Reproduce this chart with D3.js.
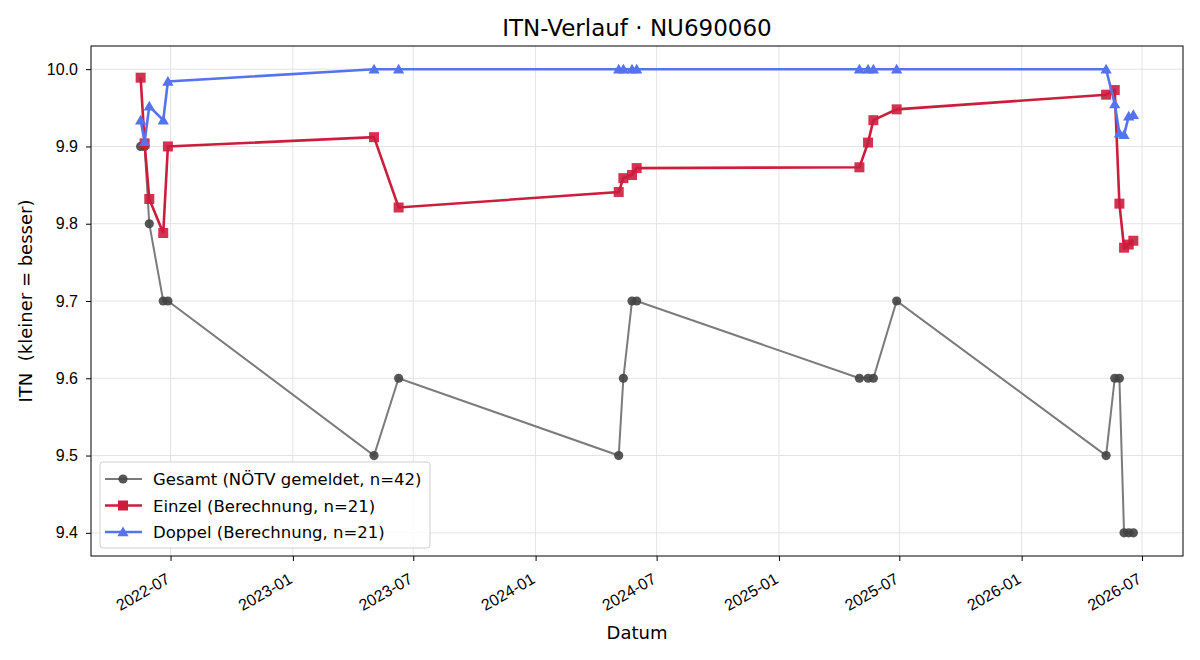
<!DOCTYPE html>
<html>
<head>
<meta charset="utf-8">
<script src="https://cdn.jsdelivr.net/npm/d3@7"></script>
<style>
  body { margin: 0; background: #fff; }
  svg { font-family: "DejaVu Sans", sans-serif; }
</style>
</head>
<body>
<svg id="chart" width="1200" height="660"></svg>
<script>
// dates of the 21 tournaments (same for all three series)
var dates = ["2022-05-17","2022-05-23","2022-05-30","2022-06-20","2022-06-27",
  "2023-05-03","2023-06-09",
  "2024-05-05","2024-05-12","2024-05-25","2024-06-01",
  "2025-05-02","2025-05-15","2025-05-23","2025-06-27",
  "2026-05-08","2026-05-21","2026-05-28","2026-06-04","2026-06-11","2026-06-18"];

var gesamt = [9.9, 9.9, 9.8, 9.7, 9.7,
  9.5, 9.6,
  9.5, 9.6, 9.7, 9.7,
  9.6, 9.6, 9.6, 9.7,
  9.5, 9.6, 9.6, 9.4, 9.4, 9.4];

var einzel = [9.989, 9.904, 9.832, 9.788, 9.900,
  9.912, 9.821,
  9.841, 9.859, 9.863, 9.872,
  9.873, 9.905, 9.934, 9.948,
  9.967, 9.973, 9.826, 9.769, 9.773, 9.778];

var doppel = [9.934, 9.906, 9.952, 9.934, 9.984,
  10.0, 10.0,
  10.0, 10.0, 10.0, 10.0,
  10.0, 10.0, 10.0, 10.0,
  10.0, 9.955, 9.917, 9.915, 9.939, 9.941];

var yTicks = [9.4, 9.5, 9.6, 9.7, 9.8, 9.9, 10.0];
var xTicks = ["2022-07-01","2023-01-01","2023-07-01","2024-01-01","2024-07-01",
  "2025-01-01","2025-07-01","2026-01-01","2026-07-01"];

var parse = d3.timeParse("%Y-%m-%d");
var t = dates.map(parse);

var svg = d3.select("#chart");
var pLeft = 91, pRight = 1183, pTop = 46, pBottom = 556;

// 5% padding like matplotlib
var tMin = d3.min(t), tMax = d3.max(t);
var pad = (tMax - tMin) * 0.05;
var x = d3.scaleTime()
  .domain([new Date(+tMin - pad), new Date(+tMax + pad)])
  .range([pLeft, pRight]);

var y = d3.scaleLinear()
  .domain([9.37, 10.03])
  .range([pBottom, pTop]);

// grid
var grid = svg.append("g");
grid.selectAll("line.gx").data(xTicks.map(parse)).enter().append("line")
  .attr("x1", function(d){ return x(d); }).attr("x2", function(d){ return x(d); })
  .attr("y1", pTop).attr("y2", pBottom)
  .attr("stroke", "#e3e3e3").attr("stroke-width", 1);
grid.selectAll("line.gy").data(yTicks).enter().append("line")
  .attr("x1", pLeft).attr("x2", pRight)
  .attr("y1", function(d){ return y(d); }).attr("y2", function(d){ return y(d); })
  .attr("stroke", "#e3e3e3").attr("stroke-width", 1);

// axes
var xAxis = svg.append("g")
  .attr("transform", "translate(0," + pBottom + ")")
  .call(d3.axisBottom(x).tickValues(xTicks.map(parse)).tickFormat(d3.timeFormat("%Y-%m")).tickSizeOuter(0).tickSize(5));
xAxis.selectAll("text")
  .attr("font-size", 16).attr("fill", "#000")
  .attr("text-anchor", "end")
  .attr("x", 0).attr("y", 0).attr("dy", 0)
  .attr("transform", "translate(0,26) rotate(-30)");
xAxis.select(".domain").remove();

var yAxis = svg.append("g")
  .attr("transform", "translate(" + pLeft + ",0)")
  .call(d3.axisLeft(y).tickValues(yTicks).tickFormat(d3.format(".1f")).tickSizeOuter(0).tickSize(5).tickPadding(8));
yAxis.selectAll("text").attr("font-size", 16).attr("fill", "#000");
yAxis.select(".domain").remove();
svg.selectAll(".tick line").attr("stroke", "#000");

// frame
svg.append("rect")
  .attr("x", pLeft).attr("y", pTop)
  .attr("width", pRight - pLeft).attr("height", pBottom - pTop)
  .attr("fill", "none").attr("stroke", "#000").attr("stroke-width", 1);

var line = function(vals) {
  return d3.line()
    .x(function(d, i){ return x(t[i]); })
    .y(function(d){ return y(d); })(vals);
};

// Gesamt
svg.append("path").attr("d", line(gesamt))
  .attr("fill", "none").attr("stroke", "#7b7b7b").attr("stroke-width", 2);
svg.selectAll("circle.ges").data(gesamt).enter().append("circle")
  .attr("cx", function(d, i){ return x(t[i]); })
  .attr("cy", function(d){ return y(d); })
  .attr("r", 4.6).attr("fill", "#444").attr("fill-opacity", 0.9);

// Einzel
var red = "#cc1d3d";
svg.append("path").attr("d", line(einzel))
  .attr("fill", "none").attr("stroke", red).attr("stroke-width", 2.6);
svg.selectAll("rect.ein").data(einzel).enter().append("rect")
  .attr("x", function(d, i){ return x(t[i]) - 5; })
  .attr("y", function(d){ return y(d) - 5; })
  .attr("width", 10).attr("height", 10)
  .attr("fill", red).attr("fill-opacity", 0.9);

// Doppel
var blue = "#5673ee";
var tri = d3.symbol().type(d3.symbolTriangle).size(55);
svg.append("path").attr("d", line(doppel))
  .attr("fill", "none").attr("stroke", blue).attr("stroke-width", 2.6);
svg.selectAll("path.dop").data(doppel).enter().append("path")
  .attr("d", tri)
  .attr("transform", function(d, i){ return "translate(" + x(t[i]) + "," + (y(d) + 1) + ")"; })
  .attr("fill", blue);

// title and labels
svg.append("text").attr("x", (pLeft + pRight) / 2).attr("y", 36)
  .attr("text-anchor", "middle").attr("font-size", 23).text("ITN-Verlauf · NU690060");
svg.append("text").attr("x", (pLeft + pRight) / 2).attr("y", 639)
  .attr("text-anchor", "middle").attr("font-size", 18).text("Datum");
svg.append("text")
  .attr("transform", "translate(32," + ((pTop + pBottom) / 2) + ") rotate(-90)")
  .attr("text-anchor", "middle").attr("font-size", 18).attr("xml:space", "preserve")
  .text("ITN  (kleiner = besser)");

// legend
var leg = svg.append("g");
leg.append("rect").attr("x", 100).attr("y", 462).attr("width", 330).attr("height", 86)
  .attr("rx", 3).attr("fill", "#fff").attr("fill-opacity", 0.85)
  .attr("stroke", "#d0d0d0");
var items = [
  {label: "Gesamt (NÖTV gemeldet, n=42)", color: "#7b7b7b", mark: "circle"},
  {label: "Einzel (Berechnung, n=21)", color: red, mark: "square"},
  {label: "Doppel (Berechnung, n=21)", color: blue, mark: "triangle"}
];
items.forEach(function(it, i) {
  var yy = 479 + i * 26.5;
  leg.append("line").attr("x1", 105).attr("x2", 142).attr("y1", yy).attr("y2", yy)
    .attr("stroke", it.color).attr("stroke-width", it.mark == "circle" ? 2 : 2.6);
  if (it.mark == "circle") {
    leg.append("circle").attr("cx", 123).attr("cy", yy).attr("r", 4.6).attr("fill", "#444").attr("fill-opacity", 0.9);
  } else if (it.mark == "square") {
    leg.append("rect").attr("x", 118).attr("y", yy - 5).attr("width", 10).attr("height", 10).attr("fill", it.color);
  } else {
    leg.append("path").attr("d", tri).attr("transform", "translate(123," + (yy + 1) + ")").attr("fill", it.color);
  }
  leg.append("text").attr("x", 153).attr("y", yy + 6).attr("font-size", 16.5).text(it.label);
});
</script>
</body>
</html>
